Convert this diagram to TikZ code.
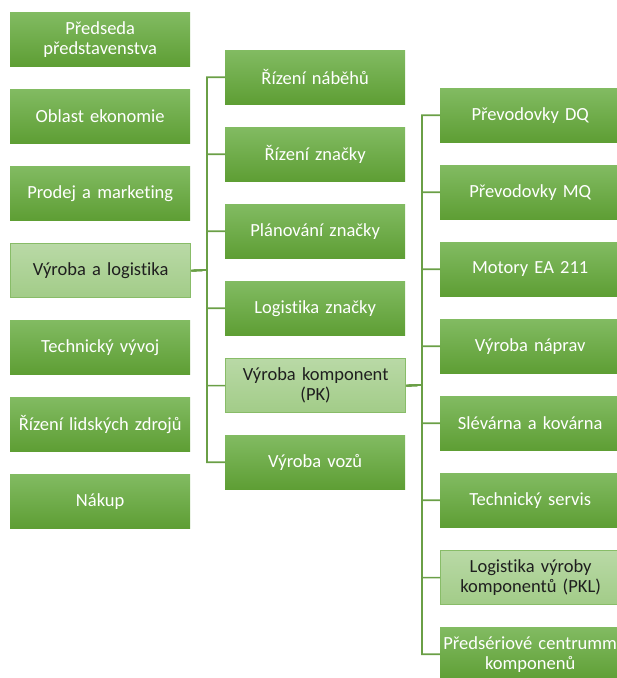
\documentclass[tikz,border=0pt]{standalone}
\usepackage{fontspec}
\setmainfont[Ligatures={NoCommon}]{Carlito}
\begin{document}
\begin{tikzpicture}[x=1pt, y=-1pt,
  unit/.style={anchor=north west, minimum width=180pt, minimum height=54pt,
    inner sep=0pt, align=center, text width=180pt,
    font=\fontsize{18.5}{20}\selectfont},
  plain/.style={unit, draw=none, top color=unitTop,
    bottom color=unitBot, text=white},
  picked/.style={unit, draw=pickEdge, line width=1.3pt,
    top color=pickTop, bottom color=pickBot, text=black!88},
  link/.style={draw=linkGreen, line width=1.6pt}
]
\definecolor{unitTop}{HTML}{82BB62}
\definecolor{unitBot}{HTML}{5E9E34}
\definecolor{pickTop}{HTML}{B9D9A6}
\definecolor{pickBot}{HTML}{A2CC88}
\definecolor{pickEdge}{HTML}{88BC68}
\definecolor{linkGreen}{HTML}{6A9F46}
\useasboundingbox (0,0) rectangle (617,678);
\clip (0,0) rectangle (617,678);

% top-level divisions
\node[plain]  (a1) at (10,12)  {Předseda\\představenstva};
\node[plain]  (a2) at (10,89)  {Oblast ekonomie};
\node[plain]  (a3) at (10,166) {Prodej a marketing};
\node[picked] (a4) at (10,243) {Výroba a logistika};
\node[plain]  (a5) at (10,320) {Technický vývoj};
\node[plain]  (a6) at (10,397) {Řízení lidských zdrojů};
\node[plain]  (a7) at (10,474) {Nákup};

% production and logistics
\node[plain]  (b1) at (225,50)  {Řízení náběhů};
\node[plain]  (b2) at (225,127) {Řízení značky};
\node[plain]  (b3) at (225,204) {Plánování značky};
\node[plain]  (b4) at (225,281) {Logistika značky};
\node[picked] (b5) at (225,358) {Výroba komponent\\(PK)};
\node[plain]  (b6) at (225,435) {Výroba vozů};

% component production
\node[plain]  (c1) at (440,88)  {Převodovky DQ};
\node[plain]  (c2) at (440,165) {Převodovky MQ};
\node[plain]  (c3) at (440,242) {Motory EA 211};
\node[plain]  (c4) at (440,319) {Výroba náprav};
\node[plain]  (c5) at (440,396) {Slévárna a kovárna};
\node[plain]  (c6) at (440,473) {Technický servis};
\node[picked] (c7) at (440,550) {Logistika výroby\\komponentů (PKL)};
\node[plain]  (c8) at (440,627) {Předsériové centrumm\\komponenů};

% connector buses
\coordinate (busB) at (207,270);
\coordinate (busC) at (422,385);
\foreach \k in {1,...,6}
  \draw[link] (a4.east) -- (busB) |- (b\k.west);
\foreach \k in {1,...,8}
  \draw[link] (b5.east) -- (busC) |- (c\k.west);
\end{tikzpicture}
\end{document}
